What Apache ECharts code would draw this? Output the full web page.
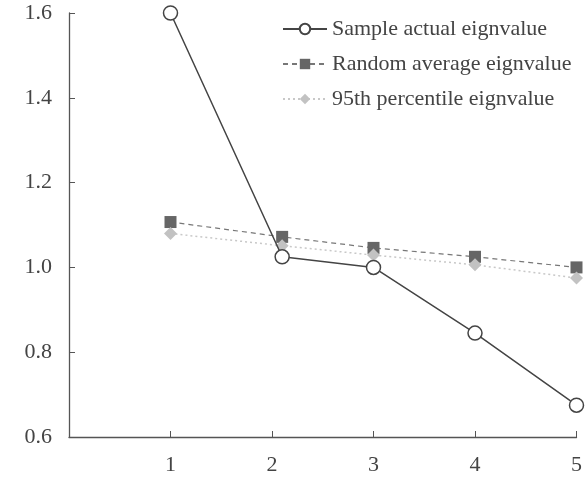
<!DOCTYPE html>
<html><head><meta charset="utf-8">
<script src="https://cdn.jsdelivr.net/npm/echarts@6/dist/echarts.min.js"></script>
<style>html,body{margin:0;padding:0;background:#fff}#c{width:585px;height:479px}</style>
</head><body><div id="c"></div>
<script>
const xPositions = [1, 2.1, 3, 4, 5];
const sampleActual = [1.6, 1.025, 1.0, 0.845, 0.675];
const randomAverage = [1.107, 1.072, 1.046, 1.025, 1.0];
const percentile95 = [1.08, 1.051, 1.029, 1.006, 0.975];
const xTicks = ['', '1', '2', '3', '4', '5'];
const names = ['Sample actual eignvalue', 'Random average eignvalue', '95th percentile eignvalue'];

const pair = (ys) => xPositions.map((x, i) => [x, ys[i]]);
const font = '"Liberation Serif", "DejaVu Serif", serif';

const chart = echarts.init(document.getElementById('c'));
chart.setOption({
  animation: false,
  grid: {left: 69, right: 7, top: 13, bottom: 42},
  legend: {
    orient: 'vertical', left: 277, top: 13, itemWidth: 44, itemHeight: 13, itemGap: 13,
    textStyle: {fontFamily: font, fontSize: 22, lineHeight: 22, color: '#444'},
    data: names
  },
  xAxis: {
    type: 'value', min: 0, max: 5, interval: 1,
    splitLine: {show: false},
    axisLine: {lineStyle: {color: '#555', width: 1.3}},
    axisTick: {inside: true, length: 6, lineStyle: {color: '#555'}},
    axisLabel: {fontFamily: font, fontSize: 22, color: '#444', margin: 17,
      formatter: (v) => xTicks[Math.round(v)]}
  },
  yAxis: {
    type: 'value', min: 0.6, max: 1.6, interval: 0.2,
    splitLine: {show: false},
    axisLine: {show: true, lineStyle: {color: '#555', width: 1.3}},
    axisTick: {show: true, inside: true, length: 6, lineStyle: {color: '#555'}},
    axisLabel: {fontFamily: font, fontSize: 22, color: '#444', margin: 17,
      formatter: (v) => v.toFixed(1)}
  },
  series: [
    {name: names[1], type: 'line', data: pair(randomAverage), symbol: 'rect', symbolSize: 12,
     itemStyle: {color: '#666'}, lineStyle: {color: '#777', width: 1.2, type: [5, 4]}, z: 2},
    {name: names[2], type: 'line', data: pair(percentile95), symbol: 'diamond', symbolSize: 13,
     itemStyle: {color: '#c2c2c2'}, lineStyle: {color: '#c8c8c8', width: 1.5, type: [2, 3]}, z: 3},
    {name: names[0], type: 'line', data: pair(sampleActual), symbol: 'circle', symbolSize: 14,
     itemStyle: {color: '#fff', borderColor: '#444', borderWidth: 1.5},
     lineStyle: {color: '#444', width: 1.5}, z: 4}
  ]
});
</script></body></html>
